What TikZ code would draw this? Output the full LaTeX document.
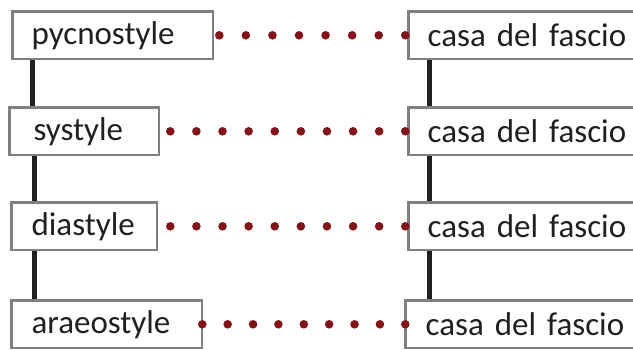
\documentclass[tikz,border=0pt]{standalone}
\usepackage{fontspec}
\setmainfont[WordSpace=0.75]{Carlito}
\definecolor{dotred}{RGB}{128,20,24}
\definecolor{ink}{RGB}{35,31,32}
\definecolor{boxgray}{RGB}{128,128,130}
\begin{document}
\begin{tikzpicture}[x=1pt,y=-1pt,
  box/.style={draw=boxgray, line width=2.6pt, fill=white, anchor=north west,
    minimum height=47.4pt, inner ysep=0pt, align=left, text=ink,
    font=\fontsize{33}{38}\selectfont},
  vline/.style={draw=ink, line width=4.5pt},
  dot/.style={circle, fill=dotred, inner sep=0pt, minimum size=8.6pt}]
\useasboundingbox (0,0) rectangle (633,349);
\clip (0,0) rectangle (633,349);
% boxes
\node[box, inner xsep=19pt, text width=162.4pt] (L1) at (11.3,10.3) {pycnostyle};
\node[box, inner xsep=24pt, text width=101.4pt] (L2) at (8.3,106.3) {systyle};
\node[box, inner xsep=20pt, text width=105.4pt] (L3) at (10.3,201.3) {diastyle};
\node[box, inner xsep=20pt, text width=150.4pt] (L4) at (10.3,299.3) {araeostyle};
\node[box, inner xsep=19pt, text width=222pt] (R1) at (407.3,10.3) {casa del fascio};
\node[box, inner xsep=19pt, text width=222pt] (R2) at (407.3,106.3) {casa del fascio};
\node[box, inner xsep=19pt, text width=222pt] (R3) at (407.3,201.3) {casa del fascio};
\node[box, inner xsep=20pt, text width=222pt] (R4) at (404.3,299.3) {casa del fascio};
% vertical lines
\draw[vline] ([xshift=21pt]L1.south west) -- ([xshift=24pt]L2.north west);
\draw[vline] ([xshift=26pt]L2.south west) -- ([xshift=24pt]L3.north west);
\draw[vline] ([xshift=24pt]L3.south west) -- ([xshift=24pt]L4.north west);
\draw[vline] ([xshift=22pt]R1.south west) -- ([xshift=22pt]R2.north west);
\draw[vline] ([xshift=22pt]R2.south west) -- ([xshift=22pt]R3.north west);
\draw[vline] ([xshift=22pt]R3.south west) -- ([xshift=25pt]R4.north west);
% dotted connectors
\path ([xshift=5pt]L1.east) -- ([xshift=-2pt]R1.west)
  foreach \i in {0,...,7} { node[dot, pos=\i/7] {} };
\path ([xshift=10pt]L2.east) -- ([xshift=-2pt]R2.west)
  foreach \i in {0,...,9} { node[dot, pos=\i/9] {} };
\path ([xshift=12pt]L3.east) -- ([xshift=-2pt]R3.west)
  foreach \i in {0,...,9} { node[dot, pos=\i/9] {} };
\path ([xshift=-1pt]L4.east) -- ([xshift=1pt]R4.west)
  foreach \i in {0,...,8} { node[dot, pos=\i/8] {} };
\end{tikzpicture}
\end{document}
